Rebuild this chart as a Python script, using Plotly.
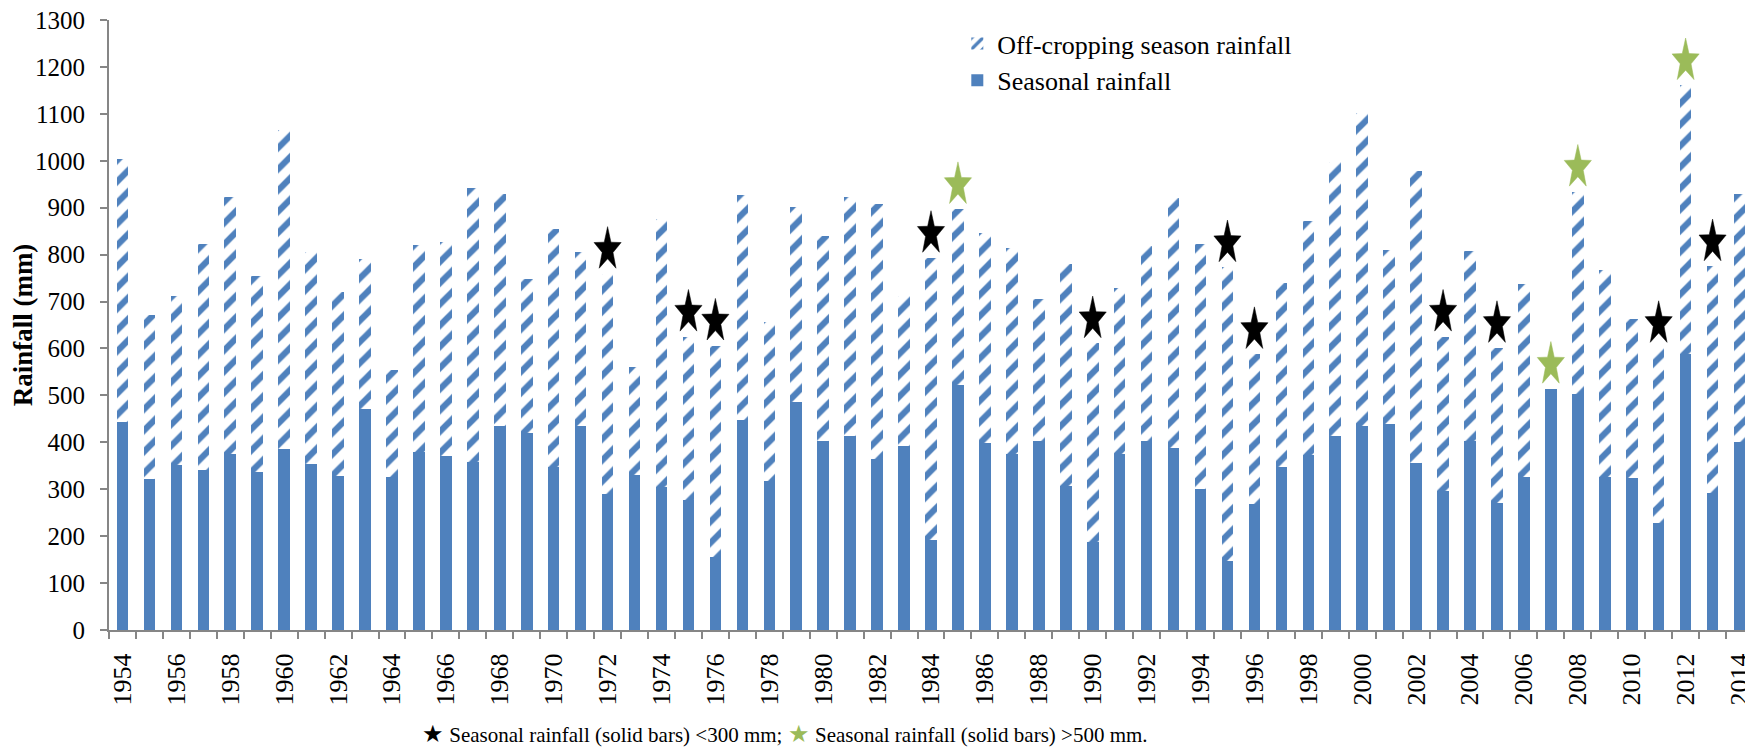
import math
import plotly.graph_objects as go

years = list(range(1954, 2015))
seasonal = [444, 321, 352, 340, 375, 336, 386, 353, 328, 472, 327, 379, 370, 359, 435, 419, 347, 435,
            290, 330, 305, 276, 155, 448, 318, 486, 402, 414, 365, 393, 192, 522, 398, 375, 402, 307,
            187, 375, 402, 387, 301, 146, 268, 347, 372, 414, 435, 440, 356, 296, 402, 270, 327, 514,
            504, 327, 324, 229, 588, 291, 400]
off_season = [560, 350, 360, 483, 548, 418, 680, 452, 392, 319, 228, 442, 457, 583, 495, 329, 507, 370,
              469, 230, 571, 349, 451, 480, 339, 416, 437, 509, 542, 318, 601, 375, 449, 439, 304, 472,
              424, 354, 417, 534, 521, 627, 320, 393, 500, 583, 666, 370, 622, 329, 405, 331, 411, 0,
              430, 441, 338, 372, 573, 484, 530]
low_threshold = 300
high_threshold = 500
tick_years = years[::2]

FONT = "Liberation Serif, Times New Roman, serif"
BLUE = "#4F81BD"
GREEN = "#9BBB59"
GRAY = "#868686"

totals = [s + o for s, o in zip(seasonal, off_season)]

# stretched 5-point star polygons (Excel-like), sized in axis units
RX, RY, GAP = 0.53, 49.0, 12.0


def star_polys(sel):
    xs, ys = [], []
    for yr, tot in sel:
        yc = tot + GAP + 0.809 * RY
        for k in range(11):
            ang = math.pi / 2 + k * math.pi / 5
            rr = 1.0 if k % 2 == 0 else 0.40
            xs.append(yr + RX * rr * math.cos(ang))
            ys.append(yc + RY * rr * math.sin(ang))
        xs.append(None)
        ys.append(None)
    return xs, ys


low_sel = [(y, t) for y, s, t in zip(years, seasonal, totals) if s < low_threshold]
high_sel = [(y, t) for y, s, t in zip(years, seasonal, totals) if s > high_threshold]

fig = go.Figure()
fig.add_bar(x=years, y=seasonal, name="Seasonal rainfall", width=0.43,
            marker=dict(color=BLUE, line=dict(width=0)))
fig.add_bar(x=years, y=off_season, name="Off-cropping season rainfall", width=0.43,
            marker=dict(color="white", line=dict(width=0),
                        pattern=dict(shape="/", fgcolor=BLUE, bgcolor="white", fgopacity=1,
                                     fillmode="replace", size=15, solidity=0.42)))

for sel, col in ((low_sel, "black"), (high_sel, GREEN)):
    xs, ys = star_polys(sel)
    fig.add_scatter(x=xs, y=ys, mode="lines", fill="toself", fillcolor=col,
                    line=dict(color=col, width=0.5), showlegend=False, hoverinfo="skip")

boundaries = [y - 0.5 for y in years] + [years[-1] + 0.5]

fig.update_layout(
    width=1745, height=740,
    barmode="stack",
    plot_bgcolor="white", paper_bgcolor="white",
    margin=dict(l=101, r=0, t=11.5, b=118),
    font=dict(family=FONT, color="black"),
    showlegend=True,
    legend=dict(x=0.516, y=1.0, xanchor="left", yanchor="top", traceorder="reversed",
                font=dict(family=FONT, size=26, color="black"), bgcolor="rgba(0,0,0,0)",
                tracegroupgap=0),
    xaxis=dict(range=[1953.5, 2014.5], tickmode="array", tickvals=tick_years,
               ticktext=[str(t) for t in tick_years], tickangle=-90, ticks="",
               showline=True, linecolor=GRAY, linewidth=2, showgrid=False, zeroline=False,
               tickfont=dict(family=FONT, size=26, color="black"),
               ticklabeloverflow="allow",
               minor=dict(ticks="outside", tickmode="array", tickvals=boundaries,
                          ticklen=7, tickwidth=2, tickcolor=GRAY, showgrid=False),
               ticklabelstandoff=11),
    yaxis=dict(range=[0, 1300], tickmode="linear", tick0=0, dtick=100, ticks="outside",
               ticklen=7, tickwidth=2, tickcolor=GRAY, showline=True, linecolor=GRAY,
               linewidth=2, showgrid=False, zeroline=False,
               tickfont=dict(family=FONT, size=25, color="black"),
               ticklabeloverflow="allow",
               ticklabelstandoff=10,
               title=dict(text="<b>Rainfall (mm)</b>", font=dict(family=FONT, size=27, color="black"),
                          standoff=2)),
    annotations=[dict(
        xref="paper", yref="paper", x=0.411, y=-0.171, xanchor="center", yanchor="middle",
        showarrow=False, font=dict(family=FONT, size=21, color="black"),
        text=("<span style='color:black;font-size:24px'>★</span> Seasonal rainfall (solid bars) &lt;300 mm; "
              f"<span style='color:{GREEN};font-size:24px'>★</span> Seasonal rainfall (solid bars) &gt;500 mm."))],
)

fig.write_html("out.html")
